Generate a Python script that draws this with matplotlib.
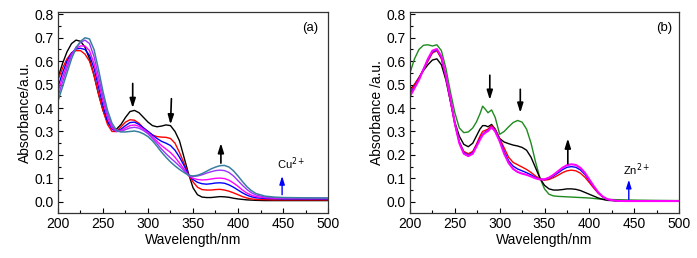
import numpy as np
import matplotlib
matplotlib.use("Agg")
import matplotlib.pyplot as plt
from matplotlib.ticker import MultipleLocator

plt.rcParams['font.family'] = ['Liberation Sans', 'DejaVu Sans']

# ---- panel (a): Cu2+ titration ----
wl_a = [200, 205, 210, 215, 220, 225, 230, 235, 240, 245, 250, 255, 260, 265, 270,
        275, 280, 285, 290, 295, 300, 305, 310, 315, 320, 325, 330, 335, 340, 345,
        350, 355, 360, 365, 370, 375, 380, 385, 390, 395, 400, 405, 410, 415, 420,
        430, 440, 450, 470, 500]

a_black = [.53, .59, .64, .675, .69, .685, .66, .61, .54, .46, .39, .34, .315, .31, .33,
           .36, .385, .39, .38, .36, .34, .325, .32, .323, .328, .325, .30, .26, .19, .12,
           .06, .03, .02, .018, .018, .02, .022, .021, .019, .015, .012, .01, .008, .007, .006,
           .005, .005, .005, .005, .005]
a_red = [.52, .57, .61, .635, .645, .645, .63, .60, .54, .46, .39, .33, .30, .30, .32,
         .34, .35, .348, .335, .315, .30, .285, .278, .276, .275, .27, .25, .21, .165, .115,
         .085, .062, .052, .05, .05, .052, .053, .05, .045, .038, .03, .022, .016, .012, .01,
         .009, .008, .008, .008, .008]
a_blue = [.49, .55, .60, .635, .652, .655, .65, .625, .57, .49, .41, .345, .31, .30, .31,
          .325, .338, .34, .33, .315, .30, .285, .27, .258, .25, .24, .22, .19, .155, .115,
          .095, .083, .077, .075, .077, .08, .081, .079, .072, .062, .05, .038, .028, .021, .017,
          .014, .013, .012, .012, .012]
a_magenta = [.47, .53, .585, .63, .655, .665, .665, .645, .59, .51, .43, .36, .315, .30, .305,
             .315, .325, .328, .322, .31, .295, .277, .258, .24, .225, .21, .19, .165, .14, .113,
             .10, .095, .093, .094, .097, .10, .101, .099, .092, .08, .066, .05, .037, .028, .022,
             .017, .015, .014, .014, .014]
a_violet = [.45, .51, .57, .625, .66, .68, .69, .675, .62, .535, .45, .375, .325, .30, .30,
            .308, .315, .318, .314, .304, .29, .27, .248, .225, .205, .187, .17, .152, .133, .113,
            .108, .11, .115, .122, .128, .133, .135, .133, .125, .11, .09, .07, .052, .038, .029,
            .02, .017, .016, .015, .015]
a_teal = [.43, .49, .55, .61, .655, .685, .70, .695, .65, .565, .47, .39, .335, .305, .298,
          .298, .30, .302, .298, .29, .278, .26, .237, .212, .19, .17, .153, .138, .125, .113,
          .11, .113, .12, .13, .14, .148, .154, .155, .148, .132, .11, .086, .064, .047, .035,
          .024, .02, .018, .017, .016]

# ---- panel (b): Zn2+ titration ----
wl_b = [200, 205, 210, 215, 220, 225, 230, 235, 240, 245, 250, 255, 260, 265, 270,
        274, 278, 281, 284, 287, 291, 295,
        300, 305, 310, 315, 320, 325, 330, 335, 340, 345, 350, 355, 360, 365, 370, 375,
        380, 385, 390, 395, 400, 405, 410, 415, 420,
        430, 440, 450, 470, 500]

b_green = [.55, .61, .65, .668, .67, .665, .67, .645, .57, .47, .38, .315, .295, .298, .315,
           .34, .375, .408, .395, .38, .392, .36,
           .288, .30, .32, .338, .347, .34, .31, .25, .17, .10, .055, .032, .025, .023, .022, .021,
           .02, .019, .018, .017, .016, .014, .012, .011, .01,
           .009, .008, .007, .006, .005]
b_black = [.48, .50, .53, .56, .585, .605, .61, .585, .52, .43, .34, .28, .245, .235, .25,
           .28, .31, .325, .325, .32, .33, .31,
           .27, .255, .248, .242, .238, .232, .22, .19, .145, .10, .07, .055, .05, .05, .052, .055,
           .055, .053, .048, .04, .032, .024, .016, .01, .006,
           .004, .004, .004, .004, .004]
b_red = [.47, .50, .53, .565, .60, .635, .645, .61, .53, .43, .33, .255, .215, .205, .215,
         .245, .28, .30, .305, .31, .325, .31,
         .27, .23, .19, .168, .158, .148, .138, .125, .11, .097, .092, .095, .103, .113, .124, .132,
         .135, .132, .122, .105, .082, .058, .036, .02, .01,
         .004, .003, .003, .003, .003]
b_blue = [.46, .49, .525, .565, .605, .64, .648, .615, .535, .435, .335, .255, .21, .198, .21,
          .24, .27, .288, .298, .305, .32, .305,
          .265, .215, .175, .152, .14, .132, .124, .115, .104, .096, .095, .10, .11, .123, .137, .147,
          .15, .147, .136, .117, .09, .063, .038, .021, .01,
          .004, .003, .003, .003, .003]
b_magenta = [.45, .485, .52, .565, .61, .645, .652, .62, .54, .44, .335, .25, .205, .195, .205,
             .235, .265, .285, .295, .302, .318, .30,
             .258, .205, .165, .14, .127, .12, .115, .108, .10, .095, .096, .103, .115, .13, .145, .156,
             .16, .157, .145, .124, .095, .066, .04, .022, .011,
             .004, .003, .003, .003, .003]

fig = plt.figure(figsize=(6.97, 2.58), dpi=100)
ax1 = fig.add_axes([58/697, 1-213/258, 270/697, 201/258])
ax2 = fig.add_axes([410/697, 1-213/258, 269/697, 201/258])

ax1.plot(wl_a, a_black, color='black', lw=1)
ax1.plot(wl_a, a_red, color='red', lw=1)
ax1.plot(wl_a, a_blue, color='blue', lw=1)
ax1.plot(wl_a, a_magenta, color='magenta', lw=1)
ax1.plot(wl_a, a_violet, color='#9933ff', lw=1)
ax1.plot(wl_a, a_teal, color='#3a7fa0', lw=1.1)

ax2.plot(wl_b, b_green, color='#1f8a1f', lw=1)
ax2.plot(wl_b, b_black, color='black', lw=1)
ax2.plot(wl_b, b_red, color='red', lw=1)
ax2.plot(wl_b, b_blue, color='blue', lw=1)
ax2.plot(wl_b, b_magenta, color='magenta', lw=1.5)

arrow_k = dict(arrowstyle='-|>,head_length=0.7,head_width=0.22', color='black', lw=1.2,
               mutation_scale=8, shrinkA=0, shrinkB=0)
arrow_b = dict(arrowstyle='-|>,head_length=0.7,head_width=0.22', color='blue', lw=1,
               mutation_scale=7, shrinkA=0, shrinkB=0)

# panel (a) annotations
ax1.annotate('', xy=(283, 0.40), xytext=(283, 0.505), arrowprops=arrow_k)
ax1.annotate('', xy=(325, 0.33), xytext=(326, 0.44), arrowprops=arrow_k)
ax1.annotate('', xy=(381, 0.25), xytext=(381, 0.165), arrowprops=arrow_k)
ax1.annotate('', xy=(449, 0.11), xytext=(449, 0.03), arrowprops=arrow_b)
ax1.text(443, 0.125, 'Cu$^{2+}$', fontsize=8, ha='left', va='bottom')
ax1.text(0.965, 0.95, '(a)', transform=ax1.transAxes, fontsize=9.5, ha='right', va='top')

# panel (b) annotations
ax2.annotate('', xy=(289, 0.435), xytext=(289, 0.54), arrowprops=arrow_k)
ax2.annotate('', xy=(323, 0.38), xytext=(323, 0.48), arrowprops=arrow_k)
ax2.annotate('', xy=(376, 0.27), xytext=(376, 0.162), arrowprops=arrow_k)
ax2.annotate('', xy=(444, 0.094), xytext=(444, 0.01), arrowprops=arrow_b)
ax2.text(438, 0.1, 'Zn$^{2+}$', fontsize=8, ha='left', va='bottom')
ax2.text(0.975, 0.95, '(b)', transform=ax2.transAxes, fontsize=9.5, ha='right', va='top')

for ax, ylab in [(ax1, 'Absorbance/a.u.'), (ax2, 'Absorbance /a.u.')]:
    ax.set_xlim(200, 500)
    ax.set_ylim(-0.048, 0.81)
    ax.xaxis.set_major_locator(MultipleLocator(50))
    ax.xaxis.set_minor_locator(MultipleLocator(25))
    ax.yaxis.set_major_locator(MultipleLocator(0.1))
    ax.yaxis.set_minor_locator(MultipleLocator(0.05))
    ax.tick_params(which='major', direction='in', length=3.5, width=0.8, labelsize=10,
                   top=False, right=False, pad=3)
    ax.tick_params(which='minor', direction='in', length=2, width=0.8, top=False, right=False)
    ax.set_xlabel('Wavelength/nm', fontsize=10, labelpad=1)
    ax.set_ylabel(ylab, fontsize=10, labelpad=2)
    for s in ax.spines.values():
        s.set_linewidth(0.9)
        s.set_color('#333333')

fig.savefig('out.png', dpi=100)
